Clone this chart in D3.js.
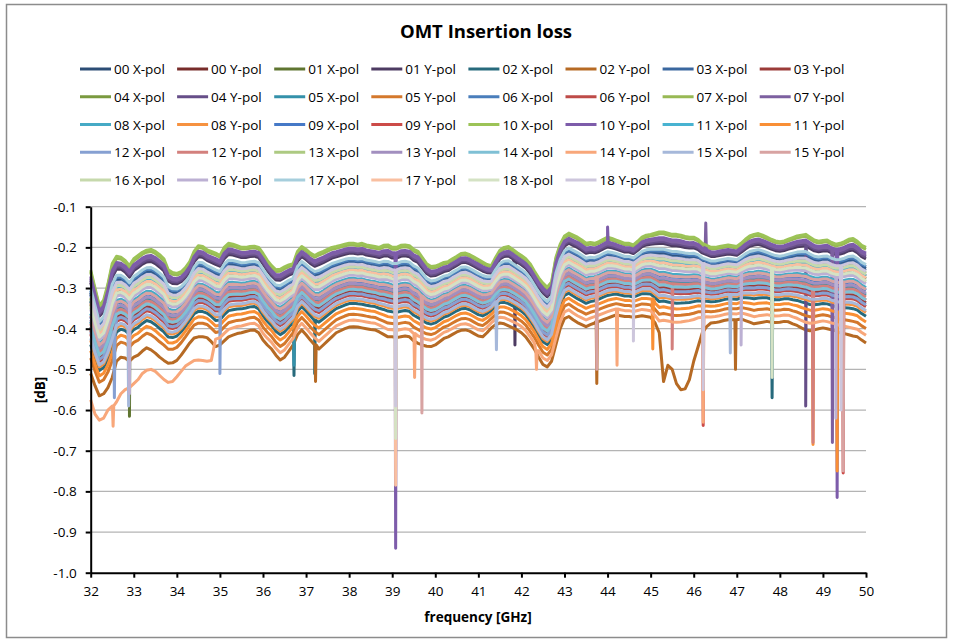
<!DOCTYPE html>
<html>
<head>
<meta charset="utf-8">
<script src="https://cdn.jsdelivr.net/npm/d3@7"></script>
<style>
  body { margin: 0; background: #fff; }
  text { font-family: "Open Sans", sans-serif; fill: #000; }
</style>
</head>
<body>
<svg id="chart" width="955" height="642"></svg>
<script>
// series names, in legend / drawing order
var seriesNames = ["00 X-pol","00 Y-pol","01 X-pol","01 Y-pol","02 X-pol","02 Y-pol","03 X-pol","03 Y-pol",
  "04 X-pol","04 Y-pol","05 X-pol","05 Y-pol","06 X-pol","06 Y-pol","07 X-pol","07 Y-pol",
  "08 X-pol","08 Y-pol","09 X-pol","09 Y-pol","10 X-pol","10 Y-pol","11 X-pol","11 Y-pol",
  "12 X-pol","12 Y-pol","13 X-pol","13 Y-pol","14 X-pol","14 Y-pol","15 X-pol","15 Y-pol",
  "16 X-pol","16 Y-pol","17 X-pol","17 Y-pol","18 X-pol","18 Y-pol"];

var seriesColors = ["#2C4D75","#772C2A","#5F7530","#4D3B62","#276A7C","#B66A24","#3A679F","#9B3B38",
  "#7A9A3F","#664E88","#3491AA","#D4782C","#4A7EBB","#BE4B48","#98B954","#7D60A0",
  "#46AAC5","#F69240","#4679C7","#CC4B48","#9CC357","#7D5CAA","#48B3D1","#F98F35",
  "#86A0D2","#D3807D","#ADCA82","#A28FBF","#7FC0D5","#F8A77A","#A6B8DA","#D8A3A2",
  "#C6D9AC","#BCB0D3","#A6CEDC","#F9BFA0","#D4E2C4","#CDC6DC"];

// frequency grid, 32.0 .. 50.0 GHz, 0.1 GHz step
var freqs = d3.range(181).map(k => +(32 + k / 10).toFixed(1));

// upper envelope of the bundle (best OMT), dB
var topLine = [
 -0.256,-0.300,-0.343,-0.330,-0.290,-0.240,-0.222,-0.224,-0.232,-0.245,
 -0.228,-0.220,-0.212,-0.207,-0.205,-0.210,-0.218,-0.228,-0.255,-0.262,
 -0.264,-0.260,-0.250,-0.235,-0.210,-0.196,-0.198,-0.206,-0.210,-0.214,
 -0.220,-0.200,-0.190,-0.192,-0.196,-0.200,-0.200,-0.198,-0.197,-0.200,
 -0.215,-0.232,-0.245,-0.255,-0.254,-0.248,-0.243,-0.240,-0.210,-0.198,
 -0.205,-0.214,-0.220,-0.214,-0.210,-0.205,-0.200,-0.198,-0.195,-0.192,
 -0.190,-0.190,-0.192,-0.190,-0.194,-0.196,-0.198,-0.200,-0.195,-0.194,
 -0.200,-0.200,-0.195,-0.194,-0.196,-0.205,-0.210,-0.225,-0.240,-0.247,
 -0.246,-0.242,-0.237,-0.235,-0.228,-0.222,-0.215,-0.214,-0.218,-0.224,
 -0.230,-0.236,-0.242,-0.245,-0.225,-0.207,-0.200,-0.198,-0.205,-0.213,
 -0.220,-0.228,-0.240,-0.258,-0.275,-0.288,-0.298,-0.285,-0.225,-0.192,
 -0.172,-0.165,-0.170,-0.175,-0.182,-0.190,-0.188,-0.190,-0.186,-0.180,
 -0.175,-0.178,-0.182,-0.186,-0.190,-0.190,-0.194,-0.185,-0.175,-0.170,
 -0.168,-0.165,-0.162,-0.162,-0.165,-0.168,-0.168,-0.170,-0.173,-0.175,
 -0.175,-0.180,-0.190,-0.195,-0.200,-0.200,-0.198,-0.196,-0.194,-0.196,
 -0.198,-0.190,-0.180,-0.172,-0.168,-0.166,-0.170,-0.175,-0.180,-0.184,
 -0.186,-0.184,-0.180,-0.176,-0.172,-0.170,-0.168,-0.175,-0.182,-0.185,
 -0.183,-0.182,-0.188,-0.192,-0.190,-0.186,-0.180,-0.178,-0.185,-0.195,
 -0.200];

// lower envelope of the bundle (02 Y-pol), dB
var bottomLine = [
 -0.510,-0.540,-0.565,-0.560,-0.545,-0.520,-0.480,-0.470,-0.472,-0.480,
 -0.470,-0.465,-0.455,-0.447,-0.452,-0.460,-0.470,-0.478,-0.485,-0.484,
 -0.478,-0.465,-0.450,-0.435,-0.423,-0.420,-0.420,-0.422,-0.432,-0.444,
 -0.440,-0.430,-0.420,-0.416,-0.412,-0.410,-0.407,-0.404,-0.403,-0.410,
 -0.428,-0.440,-0.450,-0.465,-0.477,-0.470,-0.455,-0.440,-0.415,-0.403,
 -0.415,-0.428,-0.440,-0.450,-0.440,-0.430,-0.420,-0.410,-0.405,-0.400,
 -0.396,-0.395,-0.396,-0.398,-0.400,-0.402,-0.403,-0.408,-0.414,-0.420,
 -0.420,-0.422,-0.420,-0.418,-0.420,-0.430,-0.436,-0.440,-0.443,-0.444,
 -0.440,-0.432,-0.424,-0.420,-0.414,-0.408,-0.404,-0.403,-0.406,-0.412,
 -0.418,-0.420,-0.410,-0.398,-0.390,-0.386,-0.388,-0.393,-0.398,-0.403,
 -0.410,-0.420,-0.435,-0.450,-0.470,-0.488,-0.494,-0.480,-0.440,-0.400,
 -0.375,-0.370,-0.378,-0.385,-0.390,-0.395,-0.390,-0.386,-0.382,-0.378,
 -0.374,-0.370,-0.366,-0.368,-0.370,-0.370,-0.372,-0.370,-0.368,-0.370,
 -0.372,-0.385,-0.400,-0.398,-0.400,-0.402,-0.403,-0.402,-0.400,-0.398,
 -0.395,-0.390,-0.388,-0.386,-0.386,-0.385,-0.383,-0.380,-0.378,-0.378,
 -0.378,-0.376,-0.380,-0.384,-0.388,-0.386,-0.384,-0.382,-0.384,-0.385,
 -0.384,-0.382,-0.383,-0.388,-0.392,-0.398,-0.403,-0.405,-0.403,-0.400,
 -0.398,-0.400,-0.403,-0.405,-0.410,-0.412,-0.415,-0.418,-0.420,-0.428,
 -0.435];

// where each series sits inside the bundle (0 = top envelope, 1 = bottom envelope)
var bandPosition = [0.22,0.30,0.33,0.12,0.72,1.00,0.24,0.58,
  0.27,0.10,0.50,0.85,0.20,0.62,0.02,0.08,
  0.42,0.68,0.45,0.55,0.00,0.06,0.30,0.78,
  0.60,0.52,0.36,0.48,0.55,0.92,0.66,0.44,
  0.28,0.38,0.18,0.32,0.35,0.25];

// 14 Y-pol runs below the bundle at the low end of the band
var tail14Y = [[32.0,-0.575],[32.1,-0.610],[32.2,-0.625],[32.3,-0.620],[32.4,-0.600],[32.5,-0.590],
  [32.6,-0.580],[32.7,-0.560],[32.8,-0.550],[32.9,-0.545],[33.0,-0.535],[33.1,-0.525],[33.2,-0.510],
  [33.3,-0.502],[33.4,-0.500],[33.5,-0.505],[33.6,-0.515],[33.7,-0.525],[33.8,-0.532],[33.9,-0.530],
  [34.0,-0.518],[34.1,-0.505],[34.2,-0.492],[34.3,-0.485],[34.4,-0.478],[34.5,-0.477],[34.6,-0.478],
  [34.7,-0.480],[34.8,-0.478]];

// broad resonance of 02 Y-pol around 45.5 GHz
var trough02Y = [[45.2,-0.410],[45.3,-0.530],[45.4,-0.490],[45.5,-0.500],[45.6,-0.535],[45.7,-0.550],
  [45.8,-0.548],[45.9,-0.525],[46.0,-0.480],[46.1,-0.445],[46.2,-0.410],[46.3,-0.395]];

// narrow spikes: [series, GHz, dB]
var spikes = [
 ["14 Y-pol",32.52,-0.64],["12 X-pol",32.55,-0.57],["15 X-pol",32.88,-0.59],["01 X-pol",32.9,-0.615],
 ["16 Y-pol",32.9,-0.56],["12 X-pol",35.0,-0.51],["02 X-pol",36.72,-0.515],["05 X-pol",36.72,-0.49],
 ["02 X-pol",37.2,-0.51],["02 Y-pol",37.22,-0.53],["10 Y-pol",39.08,-0.94],["17 Y-pol",39.08,-0.785],
 ["18 X-pol",39.08,-0.67],["18 Y-pol",39.08,-0.59],["14 Y-pol",39.52,-0.52],["15 Y-pol",39.69,-0.607],
 ["15 X-pol",41.42,-0.452],["01 Y-pol",41.85,-0.44],["14 Y-pol",42.35,-0.5],["02 Y-pol",43.75,-0.535],
 ["15 Y-pol",43.75,-0.5],["10 Y-pol",44.0,-0.15],["14 Y-pol",44.22,-0.49],["18 Y-pol",44.6,-0.43],
 ["11 Y-pol",45.05,-0.45],["12 Y-pol",45.5,-0.45],["09 Y-pol",46.22,-0.638],["14 Y-pol",46.22,-0.63],
 ["18 Y-pol",46.22,-0.55],["07 Y-pol",46.28,-0.14],["15 X-pol",46.85,-0.46],["02 Y-pol",46.97,-0.5],
 ["16 Y-pol",47.1,-0.44],["02 X-pol",47.82,-0.57],["18 X-pol",47.82,-0.52],["04 Y-pol",48.6,-0.59],
 ["11 Y-pol",48.77,-0.685],["12 Y-pol",48.77,-0.68],["07 Y-pol",49.22,-0.68],["10 Y-pol",49.33,-0.815],
 ["11 Y-pol",49.33,-0.75],["09 Y-pol",49.47,-0.755],["15 Y-pol",49.47,-0.75],["16 Y-pol",49.3,-0.62],
 ["18 Y-pol",49.42,-0.6],["13 Y-pol",49.47,-0.58]];

var yTicks = [-1.0,-0.9,-0.8,-0.7,-0.6,-0.5,-0.4,-0.3,-0.2,-0.1];
var xTicks = d3.range(32, 51);

var svg = d3.select("#chart");

// outer chart border
svg.append("rect").attr("x", 6.5).attr("y", 4.5).attr("width", 940).attr("height", 633)
  .attr("fill", "#fff").attr("stroke", "#8c8c8c").attr("stroke-width", 1.5);

var x = d3.scaleLinear().domain([32, 50]).range([90.7, 866]);
var y = d3.scaleLinear().domain([-1, -0.1]).range([572.7, 206.7]);

// gridlines
svg.append("g").selectAll("line").data(yTicks.filter(d => d > -1)).enter().append("line")
  .attr("x1", x(32)).attr("x2", x(50))
  .attr("y1", d => y(d)).attr("y2", d => y(d))
  .attr("stroke", "#b4b4b4").attr("stroke-width", 1.3);

function buildSeries(i) {
  var name = seriesNames[i];
  var pts = freqs.map((f, k) => [f, topLine[k] + bandPosition[i] * (bottomLine[k] - topLine[k])]);
  var extra = name == "14 Y-pol" ? tail14Y : name == "02 Y-pol" ? trough02Y : [];
  extra.forEach(p => { pts[Math.round((p[0] - 32) * 10)] = [p[0], p[1]]; });
  spikes.filter(s => s[0] == name).forEach(s => {
    var base = pts[Math.round((s[1] - 32) * 10)][1];
    pts.push([s[1] - 0.015, base], [s[1], s[2]], [s[1] + 0.015, base]);
  });
  pts.sort((a, b) => a[0] - b[0]);
  return pts;
}

var line = d3.line().x(d => x(d[0])).y(d => y(d[1]));

svg.append("g").attr("class", "series")
  .selectAll("path").data(seriesNames.map((n, i) => buildSeries(i))).enter().append("path")
  .attr("d", line)
  .attr("fill", "none")
  .attr("stroke", (d, i) => seriesColors[i])
  .attr("stroke-width", 3)
  .attr("stroke-linejoin", "round");

// axes
var yAxis = d3.axisLeft(y).tickValues(yTicks).tickFormat(d3.format(".1f")).tickSize(5).tickSizeOuter(0);
var xAxis = d3.axisBottom(x).tickValues(xTicks).tickFormat(d3.format("d")).tickSize(5).tickSizeOuter(0);

var gy = svg.append("g").attr("transform", "translate(" + x(32) + ",0)").call(yAxis);
var gx = svg.append("g").attr("transform", "translate(0," + y(-1) + ")").call(xAxis);
[gy, gx].forEach(g => {
  g.select(".domain").attr("stroke", "#000").attr("stroke-width", 2);
  g.selectAll(".tick line").attr("stroke", "#000").attr("stroke-width", 2);
  g.selectAll(".tick text").style("font-family", "'Open Sans', sans-serif").style("font-size", "13.5px").attr("fill", "#000");
});
gy.selectAll(".tick text").attr("x", -14).text(d => d3.format(".1f")(d).replace("−", "-"));
gx.selectAll(".tick text").attr("y", 14);

// titles
svg.append("text").attr("x", 486).attr("y", 38).attr("text-anchor", "middle")
  .style("font-size", "18.5px").style("font-weight", "bold").text("OMT Insertion loss");
svg.append("text").attr("x", 478).attr("y", 622).attr("text-anchor", "middle")
  .style("font-size", "13.5px").style("font-weight", "bold").text("frequency [GHz]");
svg.append("text").attr("transform", "translate(45,390) rotate(-90)").attr("text-anchor", "middle")
  .style("font-size", "13.5px").style("font-weight", "bold").text("[dB]");

// legend, 8 per row
var legend = svg.append("g").selectAll("g").data(seriesNames).enter().append("g")
  .attr("transform", (d, i) => "translate(" + (80 + (i % 8) * 97.1) + "," + (69 + Math.floor(i / 8) * 27.75) + ")");
legend.append("line").attr("x1", 0).attr("x2", 31).attr("y1", 0).attr("y2", 0)
  .attr("stroke", (d, i) => seriesColors[i]).attr("stroke-width", 3);
legend.append("text").attr("x", 34).attr("y", 5).style("font-size", "13.5px").text(d => d);
</script>
</body>
</html>
